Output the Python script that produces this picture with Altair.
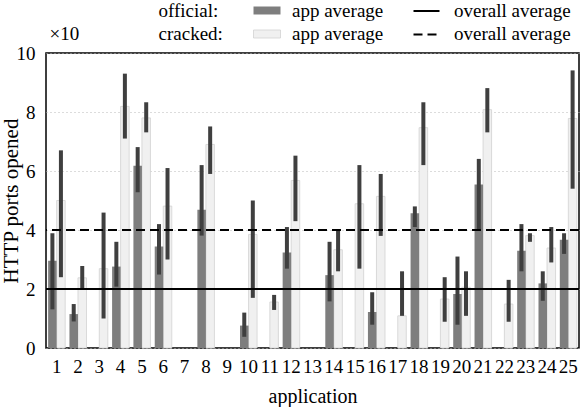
import altair as alt
import pandas as pd

# ---------------- data ----------------
apps = list(range(1, 26))

official_avg = [2.96, 1.15, 0, 2.76, 6.18, 3.44, 0, 4.69, 0, 0.76, 0, 3.24, 0,
                2.47, 0, 1.22, 0, 4.57, 0, 1.83, 5.54, 0, 3.30, 2.19, 3.67]
official_lo = [1.31, 0.90, None, 2.08, 5.28, 2.49, None, 3.81, None, 0.38, None, 2.69, None,
               1.58, None, 0.79, None, 4.10, None, 0.79, 3.98, None, 2.60, 1.60, 3.19]
official_hi = [3.89, 1.49, None, 3.60, 6.81, 4.20, None, 6.20, None, 1.20, None, 4.10, None,
               3.60, None, 1.89, None, 4.80, None, 3.10, 6.41, None, 4.20, 2.60, 3.89]

cracked_avg = [5.00, 2.38, 2.69, 8.19, 7.80, 4.81, 0, 6.90, 0, 3.85, 1.56, 5.68, 0,
               3.33, 4.89, 5.14, 1.09, 7.47, 1.66, 2.06, 8.08, 1.49, 3.81, 3.39, 7.78]
cracked_lo = [2.40, 2.00, 1.00, 7.10, 7.31, 3.00, None, 5.90, None, 1.70, 1.29, 4.30, None,
              2.60, 2.69, 3.80, 1.09, 6.20, 0.89, 1.09, 7.31, 0.89, 3.60, 2.90, 5.40]
cracked_hi = [6.70, 2.78, 4.59, 9.30, 8.33, 6.10, None, 7.51, None, 5.00, 1.80, 6.52, None,
              3.98, 6.20, 5.90, 2.60, 8.33, 2.40, 2.60, 8.81, 2.31, 3.89, 4.10, 9.41]

official_overall = [2.0]
cracked_overall = [4.0]
y_ticks = [0, 2, 4, 6, 8, 10]
groups = ["official", "cracked"]

rows = []
for i, a in enumerate(apps):
    rows.append(dict(app=a, group="official", avg=official_avg[i],
                     lo=official_lo[i], hi=official_hi[i]))
    rows.append(dict(app=a, group="cracked", avg=cracked_avg[i],
                     lo=cracked_lo[i], hi=cracked_hi[i]))
df = pd.DataFrame(rows)

FONT = "Liberation Serif"
FS = 19
Y_TITLE = "HTTP ports opened"

x_scale = alt.Scale(domain=apps, paddingInner=0.2, paddingOuter=0.1)
y_scale = alt.Scale(domain=[0, 10], nice=False)
xo = alt.XOffset("group:N", scale=alt.Scale(domain=groups))

x_axis = alt.Axis(title="application", labelAngle=0, ticks=False, tickSize=0,
                  domain=False, labelPadding=9, labelOverlap=False,
                  titleY=48, titleBaseline="middle", grid=False, titleFontSize=20)
y_axis = alt.Axis(values=y_ticks, ticks=False, tickSize=0, domain=False,
                  labelPadding=11, grid=True, gridDash=[1, 3], gridColor="#b8b8b8",
                  gridWidth=1, titleX=-35, titleY=147.5, titleBaseline="middle",
                  titleFontSize=21)

X = alt.X("app:O", scale=x_scale, axis=x_axis, title="application")

base = alt.Chart(df)

official_bars = base.transform_filter(
    "datum.group == 'official' && datum.avg > 0"
).mark_bar(color="#7e7e7e").encode(
    x=X, xOffset=xo,
    y=alt.Y("avg:Q", scale=y_scale, axis=y_axis, title=Y_TITLE),
)

cracked_bars = base.transform_filter(
    "datum.group == 'cracked' && datum.avg > 0"
).mark_bar(fill="#f0f0f0", stroke="#d2d2d2", strokeWidth=0.8).encode(
    x=X, xOffset=xo,
    y=alt.Y("avg:Q", scale=y_scale, axis=y_axis, title=Y_TITLE),
)

err = base.transform_filter("isValid(datum.lo) && isValid(datum.hi)").mark_rule(
    strokeWidth=4, color="#3f3f3f"
).encode(
    x=X, xOffset=xo,
    y=alt.Y("lo:Q", scale=y_scale, axis=y_axis, title=Y_TITLE),
    y2="hi:Q",
)

off_line = alt.Chart(pd.DataFrame({"v": official_overall})).mark_rule(
    color="black", strokeWidth=2
).encode(y=alt.Y("v:Q", scale=y_scale, axis=y_axis, title=Y_TITLE))

cr_line = alt.Chart(pd.DataFrame({"v": cracked_overall})).mark_rule(
    color="black", strokeWidth=2, strokeDash=[9, 5]
).encode(y=alt.Y("v:Q", scale=y_scale, axis=y_axis, title=Y_TITLE))

one = pd.DataFrame({"k": [0]})


def ltext(txt, x, y):
    return alt.Chart(one).mark_text(
        align="left", baseline="middle", fontSize=FS, font=FONT, color="black"
    ).encode(x=alt.value(x), y=alt.value(y), text=alt.value(txt))


def lrect(x, x2, y, y2, **kw):
    return alt.Chart(one).mark_rect(**kw).encode(
        x=alt.value(x), x2=alt.value(x2), y=alt.value(y), y2=alt.value(y2))


def lline(x, x2, y, **kw):
    return alt.Chart(one).mark_rule(color="black", strokeWidth=2, **kw).encode(
        x=alt.value(x), x2=alt.value(x2), y=alt.value(y))


R1, R2 = -42.5, -19
legend = [
    ltext("×10", 3.5, R2),
    ltext("official:", 112.5, R1),
    ltext("cracked:", 112.5, R2),
    lrect(207.5, 234.5, R1 - 4, R1 + 4, color="#7e7e7e"),
    lrect(207.5, 234.5, R2 - 4, R2 + 4, fill="#f0f0f0", stroke="#d2d2d2", strokeWidth=0.8),
    ltext("app average", 246, R1),
    ltext("app average", 246, R2),
    lline(367.5, 393.5, R1 + 0.5),
    lline(367.5, 393.5, R2 + 0.5, strokeDash=[9, 5]),
    ltext("overall average", 408, R1),
    ltext("overall average", 408, R2),
]

chart = alt.layer(
    cracked_bars, official_bars, err, off_line, cr_line, *legend
).properties(
    width=533, height=295,
    autosize=alt.AutoSizeParams(type="none"),
    padding={"left": 46, "top": 53, "right": 3, "bottom": 59},
).configure(
    font=FONT
).configure_view(
    stroke="black", strokeWidth=1.5
).configure_axis(
    labelFont=FONT, titleFont=FONT, labelFontSize=FS,
    labelColor="black", titleColor="black", titleFontWeight="normal",
)

chart.save("out.html", embed_options={"renderer": "svg", "actions": False})
